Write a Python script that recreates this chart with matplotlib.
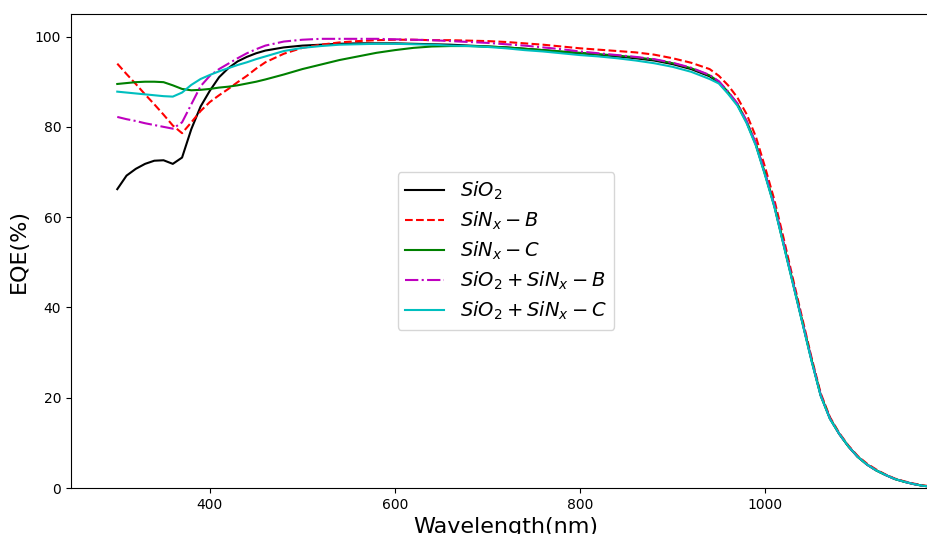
import numpy as np
import matplotlib
matplotlib.use("Agg")
from matplotlib import pyplot as plt

# wavelength grid (nm)
wl = [300, 310, 320, 330, 340, 350, 360, 370, 380, 390, 400, 410, 420, 430, 440, 450, 460,
      480, 500, 520, 540, 560, 580, 600, 620, 640, 660, 680, 700, 720, 740, 760, 780, 800,
      820, 840, 860, 880, 900, 920, 940,
      950, 960, 970, 980, 990, 1000, 1010, 1020, 1030, 1040, 1050, 1060, 1070, 1080, 1090,
      1100, 1110, 1120, 1130, 1140, 1150, 1160, 1170, 1180, 1190, 1200]

tail = [89.6, 87.3, 84.7, 80.8, 75.8, 69.2, 62.2, 53.7, 45.2, 36.7, 28.2, 20.4, 15.3, 12.0, 9.2,
        6.9, 5.2, 3.9, 2.9, 2.0, 1.4, 0.9, 0.5, 0.3, 0.15, 0.05]

sio2 = [66.2, 69.2, 70.7, 71.8, 72.5, 72.6, 71.8, 73.2, 79.5, 84.5, 88.0, 91.0, 93.0, 94.5, 95.5, 96.3, 96.9,
        97.6, 98.0, 98.2, 98.4, 98.5, 98.5, 98.5, 98.4, 98.3, 98.2, 98.0, 97.8, 97.6, 97.3, 97.0, 96.6, 96.3,
        96.0, 95.6, 95.2, 94.7, 93.9, 92.8, 91.2,
        89.8, 87.5, 84.9, 81.0, 76.0, 69.4, 62.4, 53.9, 45.4, 36.9, 28.4, 20.5, 15.4, 12.0, 9.2,
        6.9, 5.2, 3.9, 2.9, 2.0, 1.4, 0.9, 0.5, 0.3, 0.15, 0.05]

sinx_b = [94.0, 91.7, 89.5, 87.2, 85.0, 82.7, 80.3, 78.6, 81.0, 83.5, 85.5, 87.0, 88.4, 89.9, 91.3, 92.9, 94.3,
          96.2, 97.5, 98.2, 98.7, 99.0, 99.2, 99.3, 99.3, 99.2, 99.2, 99.1, 99.0, 98.8, 98.5, 98.2, 97.8, 97.4,
          97.1, 96.8, 96.5, 96.0, 95.2, 94.2, 92.8,
          91.3, 89.2, 86.5, 82.8, 77.8, 71.0, 63.8, 55.3, 46.4, 37.7, 29.0, 21.0, 15.7, 12.2, 9.4,
          7.1, 5.4, 4.1, 3.0, 2.1, 1.5, 1.0, 0.6, 0.35, 0.2, 0.1]

sinx_c = [89.5, 89.7, 89.9, 90.0, 90.0, 89.9, 89.2, 88.4, 88.1, 88.2, 88.4, 88.7, 88.9, 89.2, 89.6, 90.0, 90.5,
          91.6, 92.8, 93.8, 94.8, 95.6, 96.4, 97.0, 97.5, 97.8, 97.9, 97.9, 97.8, 97.6, 97.3, 97.0, 96.7, 96.4,
          96.1, 95.8, 95.4, 94.9, 94.1, 93.0, 91.4,
          90.0, 87.7, 85.1, 81.2, 76.2, 69.6, 62.6, 54.1, 45.6, 37.0, 28.5, 20.6, 15.4, 12.0, 9.2,
          6.9, 5.2, 3.9, 2.9, 2.0, 1.4, 0.9, 0.5, 0.3, 0.15, 0.05]

sio2_sinx_b = [82.2, 81.7, 81.3, 80.8, 80.4, 80.0, 79.6, 81.0, 85.0, 89.0, 91.3, 92.8, 94.0, 95.2, 96.3, 97.2, 98.0,
               98.9, 99.3, 99.5, 99.5, 99.5, 99.5, 99.4, 99.3, 99.2, 99.0, 98.8, 98.6, 98.3, 98.0, 97.6, 97.2, 96.7,
               96.3, 95.9, 95.5, 95.0, 94.2, 93.1, 91.5,
               90.1, 87.8, 85.2, 81.3, 76.3, 69.7, 62.7, 54.2, 45.6, 37.0, 28.5, 20.6, 15.4, 12.0, 9.2,
               6.9, 5.2, 3.9, 2.9, 2.0, 1.4, 0.9, 0.5, 0.3, 0.15, 0.05]

sio2_sinx_c = [87.8, 87.6, 87.4, 87.2, 87.0, 86.8, 86.7, 87.6, 89.3, 90.6, 91.5, 92.3, 93.0, 93.7, 94.3, 95.0, 95.6,
               96.8, 97.5, 97.9, 98.2, 98.3, 98.4, 98.4, 98.3, 98.2, 98.0, 97.9, 97.7, 97.4, 97.0, 96.7, 96.3, 95.9,
               95.6, 95.2, 94.7, 94.1, 93.3, 92.2, 90.6] + tail

fig = plt.figure(figsize=(9.28, 5.34), dpi=100)
ax = fig.add_axes([71/928, 46/534, 870/928, 474/534])

ax.plot(wl, sio2, 'k-', label=r'$SiO_2$')
ax.plot(wl, sinx_b, 'r--', label=r'$SiN_x-B$')
ax.plot(wl, sinx_c, 'g-', label=r'$SiN_x-C$')
ax.plot(wl, sio2_sinx_b, 'm-.', label=r'$SiO_2+SiN_x-B$')
ax.plot(wl, sio2_sinx_c, 'c-', label=r'$SiO_2+SiN_x-C$')

ax.set_xlim(250, 1190)
ax.set_ylim(0, 105)
ax.set_xticks([400, 600, 800, 1000])
ax.set_yticks([0, 20, 40, 60, 80, 100])
ax.set_xlabel('Wavelength(nm)', fontsize=16)
ax.set_ylabel('EQE(%)', fontsize=16)
ax.legend(loc='center', fontsize=14, labelspacing=0.4)

fig.savefig('out.png', dpi=100)
